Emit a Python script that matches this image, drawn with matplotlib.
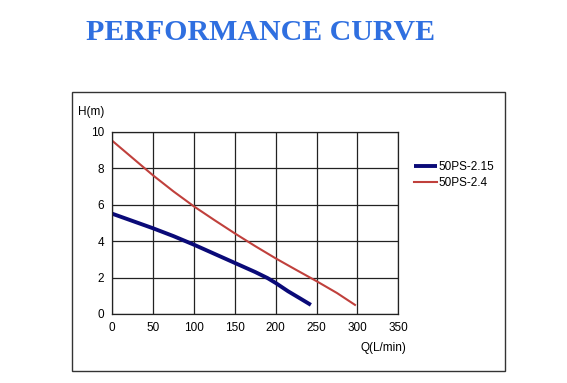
import matplotlib
matplotlib.use('Agg')
import matplotlib.pyplot as plt
from matplotlib.patches import Rectangle

q_215 = [0, 25, 50, 75, 100, 125, 150, 175, 190, 200, 215, 230, 243]
h_215 = [5.5, 5.1, 4.7, 4.27, 3.8, 3.3, 2.8, 2.3, 1.97, 1.7, 1.25, 0.85, 0.5]
q_24 = [0, 25, 50, 75, 100, 125, 150, 175, 200, 225, 250, 275, 297]
h_24 = [9.5, 8.55, 7.6, 6.72, 5.9, 5.15, 4.42, 3.72, 3.05, 2.42, 1.8, 1.15, 0.5]
x_ticks = [0, 50, 100, 150, 200, 250, 300, 350]
y_ticks = [0, 2, 4, 6, 8, 10]

plt.rcParams['font.family'] = ['Liberation Sans', 'DejaVu Sans']

fig = plt.figure(figsize=(5.67, 3.83), dpi=100)

# outer frame
fig.patches.append(Rectangle((72/567, 1-371/383), (505-72)/567, (371-92)/383,
                             transform=fig.transFigure, fill=False,
                             edgecolor='#333333', lw=1))

fig.text(261/567, 1-33/383, 'PERFORMANCE CURVE', ha='center', va='center',
         color='#2f6fe0', fontsize=21.5, fontweight='bold',
         family=['Liberation Serif'])

ax = fig.add_axes([112.3/567, 1-314/383, 286/567, (314-131.7)/383])
ax.plot(q_215, h_215, color='#0a0a78', lw=2.8, solid_capstyle='butt', label='50PS-2.15')
ax.plot(q_24, h_24, color='#c0403c', lw=1.5, label='50PS-2.4')

ax.set_xlim(0, 350)
ax.set_ylim(0, 10)
ax.set_xticks(x_ticks)
ax.set_yticks(y_ticks)
ax.grid(True, color='#222222', lw=0.9)
ax.tick_params(length=0, labelsize=8.5, pad=6)
for s in ax.spines.values():
    s.set_color('#222222')
    s.set_linewidth(0.9)

fig.text(91/567, 1-112/383, 'H(m)', ha='center', va='center', fontsize=8.5)
fig.text(383/567, 1-348/383, 'Q(L/min)', ha='center', va='center', fontsize=8.5)

ax.legend(loc='upper left', bbox_to_anchor=(409/567, 1-156/383),
          bbox_transform=fig.transFigure, frameon=False, fontsize=8.5,
          handlelength=2.0, handletextpad=0.1, labelspacing=0.4, borderaxespad=0)

fig.savefig('out.png', dpi=100)
